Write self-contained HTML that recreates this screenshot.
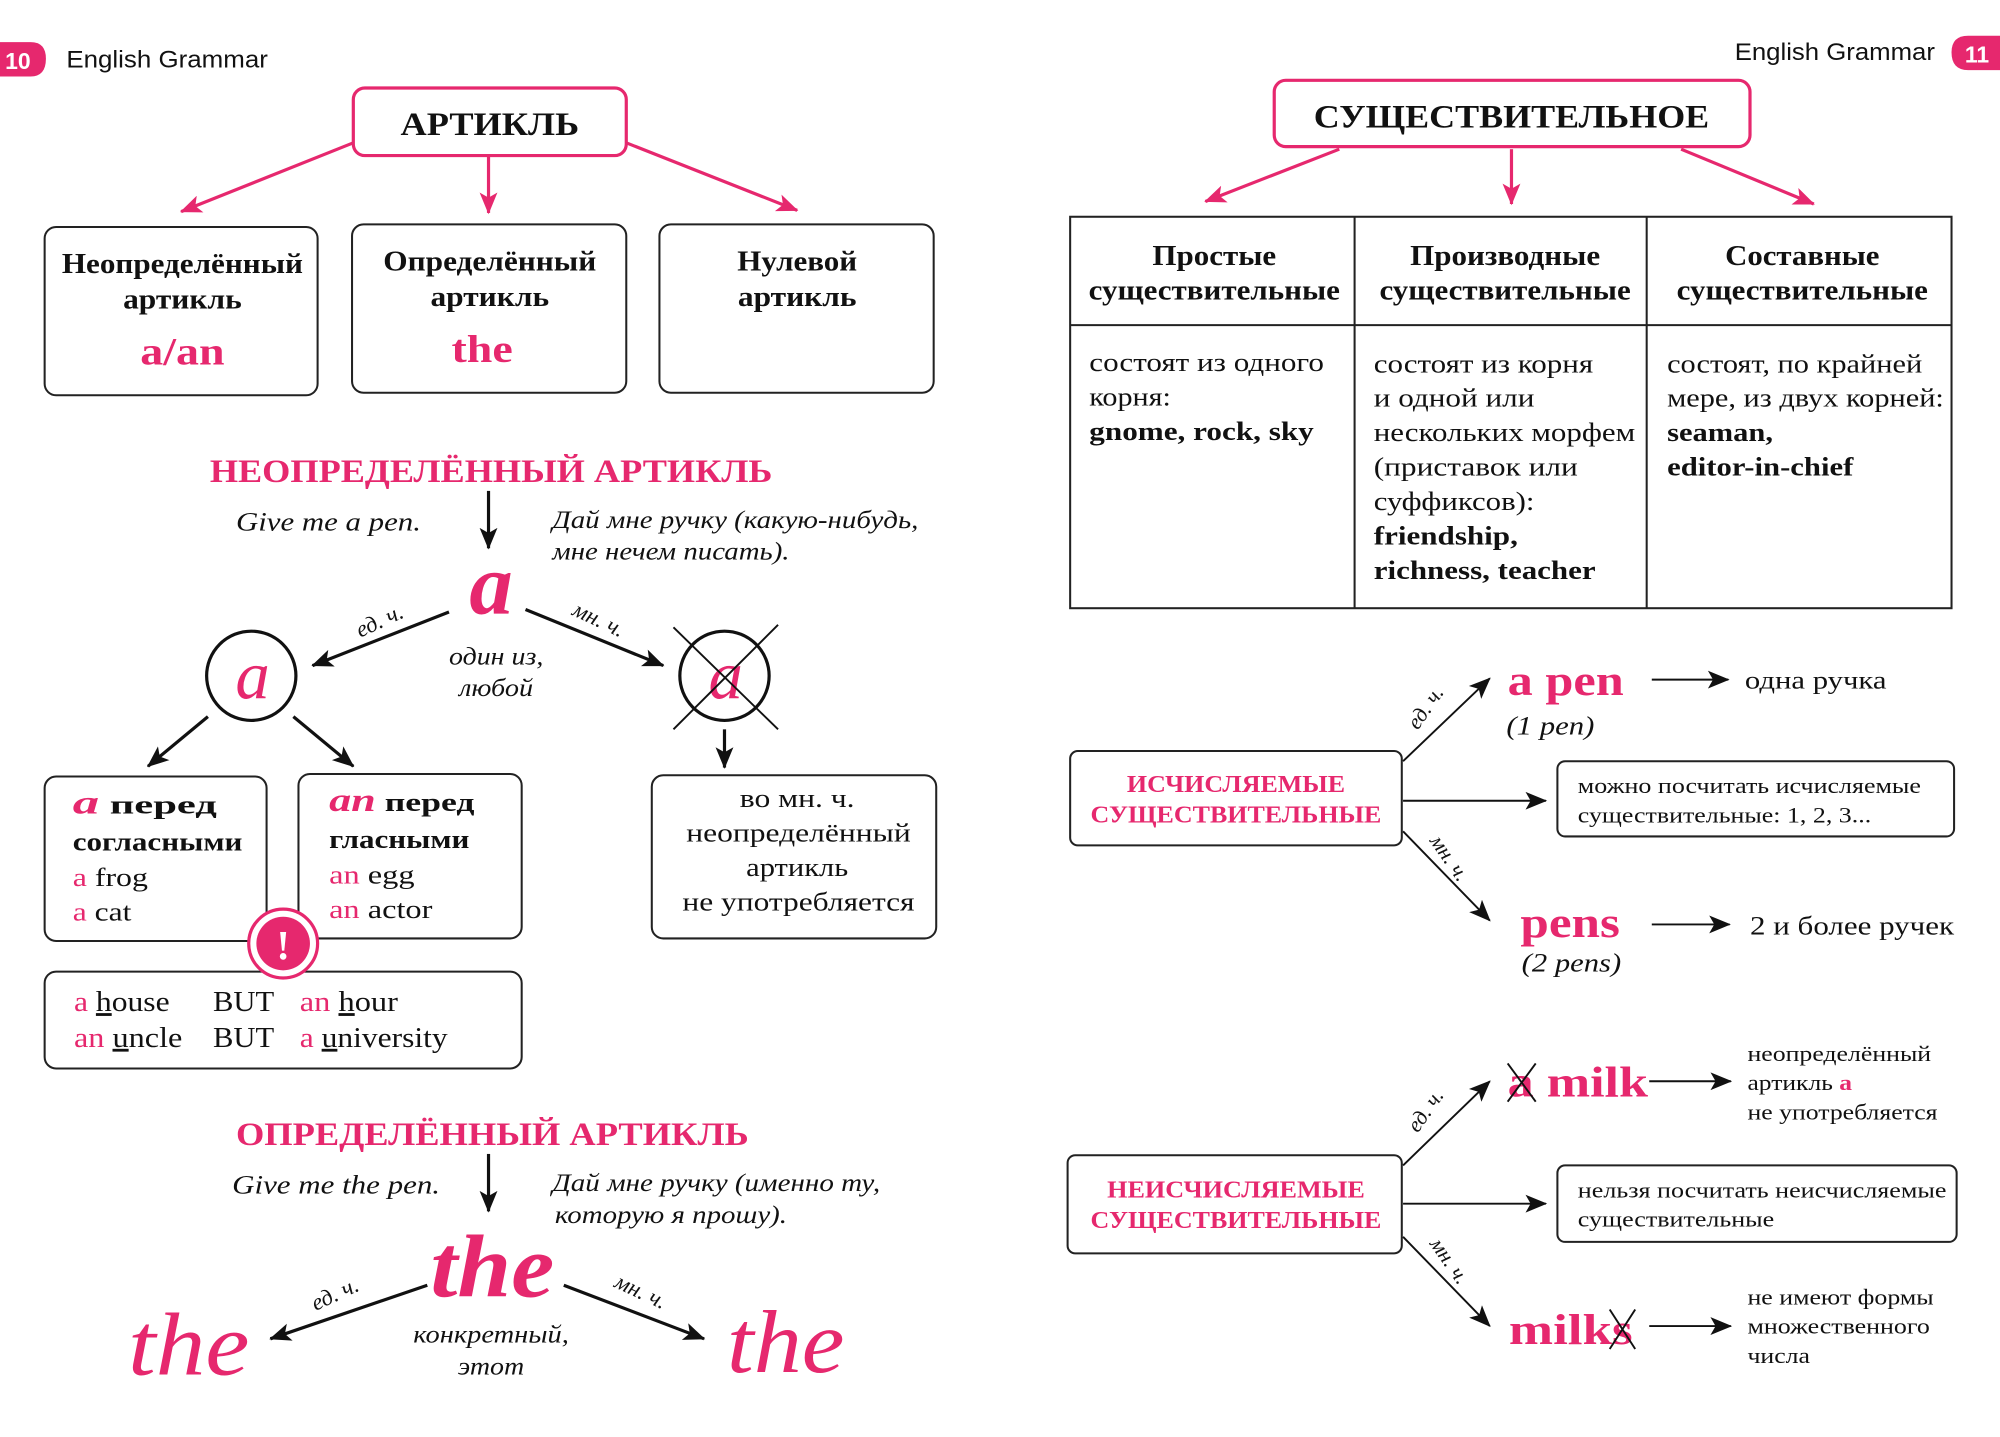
<!DOCTYPE html>
<html><head><meta charset="utf-8"><style>
html,body{margin:0;padding:0;background:#fff;}
svg{display:block;}
text{font-family:"Liberation Serif",serif;}
.s{font-family:"Liberation Sans",sans-serif;}
.p{fill:#e6286e;}
.b{font-weight:bold;}
.i{font-style:italic;}
</style></head><body>
<svg width="2000" height="1437" viewBox="0 0 1568 1127" preserveAspectRatio="none" xmlns="http://www.w3.org/2000/svg">
<defs>
<marker id="ab" markerWidth="20" markerHeight="16" refX="16" refY="8" orient="auto" markerUnits="userSpaceOnUse"><path d="M0,1 L17,8 L0,15 L4,8 Z" fill="#111"/></marker>
<marker id="apk" markerWidth="20" markerHeight="16" refX="16" refY="8" orient="auto" markerUnits="userSpaceOnUse"><path d="M0,1 L17,8 L0,15 L4,8 Z" fill="#e6286e"/></marker>
</defs>
<rect width="1568" height="1127" fill="#fff"/>

<!-- LEFT PAGE header -->
<path d="M0,33 H24 Q36,33 36,46 Q36,60 24,60 H0 Z" fill="#e6286e"/>
<text x="14" y="54" class="s b" font-size="18" fill="#fff" text-anchor="middle">10</text>
<text x="52" y="53" class="s" font-size="19" fill="#111" textLength="158" lengthAdjust="spacingAndGlyphs">English Grammar</text>

<rect x="277" y="69" width="214" height="53" rx="9" fill="#fff" stroke="#e6286e" stroke-width="2.5"/>
<text x="384" y="106" class="b" font-size="26" text-anchor="middle" fill="#111" textLength="140" lengthAdjust="spacingAndGlyphs">АРТИКЛЬ</text>
<g stroke="#e6286e" stroke-width="2.5" fill="none">
<line x1="277" y1="112" x2="142" y2="166" marker-end="url(#apk)"/>
<line x1="383" y1="122" x2="383" y2="167" marker-end="url(#apk)"/>
<line x1="491" y1="112" x2="625" y2="165" marker-end="url(#apk)"/>
</g>
<g fill="none" stroke="#222" stroke-width="1.6">
<rect x="35" y="178" width="214" height="132" rx="9"/>
<rect x="276" y="176" width="215" height="132" rx="9"/>
<rect x="517" y="176" width="215" height="132" rx="9"/>
</g>
<g class="b" font-size="22" text-anchor="middle" fill="#111">
<text x="143" y="214" textLength="189" lengthAdjust="spacingAndGlyphs">Неопределённый</text><text x="143" y="242" textLength="93" lengthAdjust="spacingAndGlyphs">артикль</text>
<text x="384" y="212" textLength="167" lengthAdjust="spacingAndGlyphs">Определённый</text><text x="384" y="240" textLength="93" lengthAdjust="spacingAndGlyphs">артикль</text>
<text x="625" y="212" textLength="94" lengthAdjust="spacingAndGlyphs">Нулевой</text><text x="625" y="240" textLength="93" lengthAdjust="spacingAndGlyphs">артикль</text>
</g>
<text x="143" y="286" class="b p" font-size="31" text-anchor="middle" textLength="66" lengthAdjust="spacingAndGlyphs">a/an</text>
<text x="378" y="284" class="b p" font-size="31" text-anchor="middle" textLength="48" lengthAdjust="spacingAndGlyphs">the</text>

<text x="385" y="378" class="b p" font-size="26" text-anchor="middle" textLength="441" lengthAdjust="spacingAndGlyphs">НЕОПРЕДЕЛЁННЫЙ АРТИКЛЬ</text>
<text x="185" y="416" class="i" font-size="21" fill="#111" textLength="145" lengthAdjust="spacingAndGlyphs">Give me a pen.</text>
<line x1="383" y1="385" x2="383" y2="430" stroke="#111" stroke-width="2.5" marker-end="url(#ab)"/>
<text x="433" y="414" class="i" font-size="20" fill="#111" textLength="287" lengthAdjust="spacingAndGlyphs">Дай мне ручку (какую-нибудь,</text>
<text x="433" y="439" class="i" font-size="20" fill="#111" textLength="186" lengthAdjust="spacingAndGlyphs">мне нечем писать).</text>
<text x="385" y="481" class="i b p" font-size="68" text-anchor="middle">a</text>
<text transform="translate(300,492) rotate(-25)" class="i" font-size="18" text-anchor="middle" fill="#111">ед. ч.</text>
<text transform="translate(467,491) rotate(25)" class="i" font-size="18" text-anchor="middle" fill="#111">мн. ч.</text>
<g stroke="#111" stroke-width="2.5">
<line x1="352" y1="480" x2="245" y2="522" marker-end="url(#ab)"/>
<line x1="412" y1="478" x2="520" y2="522" marker-end="url(#ab)"/>
<line x1="163" y1="562" x2="116" y2="601" marker-end="url(#ab)"/>
<line x1="230" y1="562" x2="277" y2="601" marker-end="url(#ab)"/>
<line x1="568" y1="572" x2="568" y2="602" marker-end="url(#ab)"/>
</g>
<text x="389" y="521" class="i" font-size="20" text-anchor="middle" fill="#111" textLength="74" lengthAdjust="spacingAndGlyphs">один из,</text>
<text x="389" y="546" class="i" font-size="20" text-anchor="middle" fill="#111" textLength="58" lengthAdjust="spacingAndGlyphs">любой</text>
<circle cx="197" cy="530" r="35" fill="none" stroke="#111" stroke-width="2.5"/>
<text x="198" y="548" class="i p" font-size="54" text-anchor="middle">a</text>
<circle cx="568" cy="530" r="35" fill="none" stroke="#111" stroke-width="2.5"/>
<text x="569" y="548" class="i p" font-size="54" text-anchor="middle">a</text>
<g stroke="#111" stroke-width="1.5"><line x1="528" y1="492" x2="610" y2="572"/><line x1="610" y1="490" x2="528" y2="572"/></g>

<g fill="none" stroke="#222" stroke-width="1.6">
<rect x="35" y="609" width="174" height="129" rx="9"/>
<rect x="234" y="607" width="175" height="129" rx="9"/>
<rect x="511" y="608" width="223" height="128" rx="9"/>
<rect x="35" y="762" width="374" height="76" rx="9"/>
</g>
<g font-size="21" fill="#111">
<text x="57" y="638" class="b" textLength="113" lengthAdjust="spacingAndGlyphs"><tspan class="i p" font-size="26">a</tspan> перед</text>
<text x="57" y="667" class="b" textLength="133" lengthAdjust="spacingAndGlyphs">согласными</text>
<text x="57" y="695" textLength="59" lengthAdjust="spacingAndGlyphs"><tspan class="p">a</tspan> frog</text>
<text x="57" y="722" textLength="46" lengthAdjust="spacingAndGlyphs"><tspan class="p">a</tspan> cat</text>
<text x="258" y="636" class="b" textLength="114" lengthAdjust="spacingAndGlyphs"><tspan class="i p" font-size="26">an</tspan> перед</text>
<text x="258" y="665" class="b" textLength="110" lengthAdjust="spacingAndGlyphs">гласными</text>
<text x="258" y="693" textLength="67" lengthAdjust="spacingAndGlyphs"><tspan class="p">an</tspan> egg</text>
<text x="258" y="720" textLength="81" lengthAdjust="spacingAndGlyphs"><tspan class="p">an</tspan> actor</text>
</g>
<g font-size="21" fill="#111" text-anchor="middle">
<text x="625" y="633" textLength="90" lengthAdjust="spacingAndGlyphs">во мн. ч.</text>
<text x="626" y="660" textLength="176" lengthAdjust="spacingAndGlyphs">неопределённый</text>
<text x="625" y="687" textLength="80" lengthAdjust="spacingAndGlyphs">артикль</text>
<text x="626" y="714" textLength="182" lengthAdjust="spacingAndGlyphs">не употребляется</text>
</g>
<circle cx="222" cy="740" r="27" fill="#fff" stroke="#e6286e" stroke-width="2.5"/>
<circle cx="222" cy="740" r="21" fill="#e6286e"/>
<text x="222" y="752" class="b" font-size="32" fill="#fff" text-anchor="middle">!</text>
<g font-size="22" fill="#111">
<text x="58" y="793" textLength="75" lengthAdjust="spacingAndGlyphs"><tspan class="p">a</tspan> <tspan text-decoration="underline">h</tspan>ouse</text>
<text x="58" y="821" textLength="85" lengthAdjust="spacingAndGlyphs"><tspan class="p">an</tspan> <tspan text-decoration="underline">u</tspan>ncle</text>
<text x="167" y="793" textLength="48" lengthAdjust="spacingAndGlyphs">BUT</text><text x="167" y="821" textLength="48" lengthAdjust="spacingAndGlyphs">BUT</text>
<text x="235" y="793" textLength="77" lengthAdjust="spacingAndGlyphs"><tspan class="p">an</tspan> <tspan text-decoration="underline">h</tspan>our</text>
<text x="235" y="821" textLength="116" lengthAdjust="spacingAndGlyphs"><tspan class="p">a</tspan> <tspan text-decoration="underline">u</tspan>niversity</text>
</g>

<text x="386" y="898" class="b p" font-size="26" text-anchor="middle" textLength="402" lengthAdjust="spacingAndGlyphs">ОПРЕДЕЛЁННЫЙ АРТИКЛЬ</text>
<text x="182" y="936" class="i" font-size="21" fill="#111" textLength="163" lengthAdjust="spacingAndGlyphs">Give me the pen.</text>
<line x1="383" y1="905" x2="383" y2="950" stroke="#111" stroke-width="2.5" marker-end="url(#ab)"/>
<text x="433" y="934" class="i" font-size="20" fill="#111" textLength="257" lengthAdjust="spacingAndGlyphs">Дай мне ручку (именно ту,</text>
<text x="435" y="959" class="i" font-size="20" fill="#111" textLength="182" lengthAdjust="spacingAndGlyphs">которую я прошу).</text>
<text x="386" y="1017" class="i b p" font-size="70" text-anchor="middle" textLength="97" lengthAdjust="spacingAndGlyphs">the</text>
<text x="148" y="1078" class="i p" font-size="70" text-anchor="middle" textLength="95" lengthAdjust="spacingAndGlyphs">the</text>
<text x="616" y="1076" class="i p" font-size="70" text-anchor="middle" textLength="92" lengthAdjust="spacingAndGlyphs">the</text>
<text transform="translate(265,1020) rotate(-25)" class="i" font-size="18" text-anchor="middle" fill="#111">ед. ч.</text>
<text transform="translate(500,1018) rotate(25)" class="i" font-size="18" text-anchor="middle" fill="#111">мн. ч.</text>
<g stroke="#111" stroke-width="2.5">
<line x1="335" y1="1008" x2="212" y2="1050" marker-end="url(#ab)"/>
<line x1="442" y1="1008" x2="552" y2="1050" marker-end="url(#ab)"/>
</g>
<text x="385" y="1053" class="i" font-size="20" text-anchor="middle" fill="#111" textLength="122" lengthAdjust="spacingAndGlyphs">конкретный,</text>
<text x="385" y="1078" class="i" font-size="20" text-anchor="middle" fill="#111" textLength="52" lengthAdjust="spacingAndGlyphs">этот</text>

<!-- RIGHT PAGE -->
<text x="1517" y="47" class="s" font-size="19" fill="#111" text-anchor="end" textLength="157" lengthAdjust="spacingAndGlyphs">English Grammar</text>
<path d="M1568,28 H1543 Q1530,28 1530,41 Q1530,55 1543,55 H1568 Z" fill="#e6286e"/>
<text x="1550" y="49" class="s b" font-size="18" fill="#fff" text-anchor="middle">11</text>

<rect x="999" y="63" width="373" height="52" rx="9" fill="#fff" stroke="#e6286e" stroke-width="2.5"/>
<text x="1185" y="100" class="b" font-size="26" text-anchor="middle" fill="#111" textLength="310" lengthAdjust="spacingAndGlyphs">СУЩЕСТВИТЕЛЬНОЕ</text>
<g stroke="#e6286e" stroke-width="2.5">
<line x1="1050" y1="117" x2="945" y2="158" marker-end="url(#apk)"/>
<line x1="1185" y1="117" x2="1185" y2="160" marker-end="url(#apk)"/>
<line x1="1318" y1="117" x2="1422" y2="160" marker-end="url(#apk)"/>
</g>
<g fill="none" stroke="#222" stroke-width="1.6">
<rect x="839" y="170" width="691" height="307"/>
<line x1="1062" y1="170" x2="1062" y2="477"/>
<line x1="1291" y1="170" x2="1291" y2="477"/>
<line x1="839" y1="255" x2="1530" y2="255"/>
</g>
<g class="b" font-size="22" text-anchor="middle" fill="#111">
<text x="952" y="208" textLength="97" lengthAdjust="spacingAndGlyphs">Простые</text><text x="952" y="235" textLength="197" lengthAdjust="spacingAndGlyphs">существительные</text>
<text x="1180" y="208" textLength="149" lengthAdjust="spacingAndGlyphs">Производные</text><text x="1180" y="235" textLength="197" lengthAdjust="spacingAndGlyphs">существительные</text>
<text x="1413" y="208" textLength="121" lengthAdjust="spacingAndGlyphs">Составные</text><text x="1413" y="235" textLength="197" lengthAdjust="spacingAndGlyphs">существительные</text>
</g>
<g font-size="21" fill="#111">
<text x="854" y="291" textLength="184" lengthAdjust="spacingAndGlyphs">состоят из одного</text>
<text x="854" y="318" textLength="64" lengthAdjust="spacingAndGlyphs">корня:</text>
<text x="854" y="345" class="b" textLength="176" lengthAdjust="spacingAndGlyphs">gnome, rock, sky</text>
<text x="1077" y="292" textLength="172" lengthAdjust="spacingAndGlyphs">состоят из корня</text>
<text x="1077" y="319" textLength="126" lengthAdjust="spacingAndGlyphs">и одной или</text>
<text x="1077" y="346" textLength="205" lengthAdjust="spacingAndGlyphs">нескольких морфем</text>
<text x="1077" y="373" textLength="160" lengthAdjust="spacingAndGlyphs">(приставок или</text>
<text x="1077" y="400" textLength="126" lengthAdjust="spacingAndGlyphs">суффиксов):</text>
<text x="1077" y="427" class="b" textLength="113" lengthAdjust="spacingAndGlyphs">friendship,</text>
<text x="1077" y="454" class="b" textLength="174" lengthAdjust="spacingAndGlyphs">richness, teacher</text>
<text x="1307" y="292" textLength="200" lengthAdjust="spacingAndGlyphs">состоят, по крайней</text>
<text x="1307" y="319" textLength="217" lengthAdjust="spacingAndGlyphs">мере, из двух корней:</text>
<text x="1307" y="346" class="b" textLength="83" lengthAdjust="spacingAndGlyphs">seaman,</text>
<text x="1307" y="373" class="b" textLength="146" lengthAdjust="spacingAndGlyphs">editor-in-chief</text>
</g>

<g fill="none" stroke="#222" stroke-width="1.6">
<rect x="839" y="589" width="260" height="74" rx="6"/>
<rect x="1221" y="597" width="311" height="59" rx="6"/>
<rect x="837" y="906" width="262" height="77" rx="6"/>
<rect x="1221" y="914" width="313" height="60" rx="6"/>
</g>
<text x="969" y="621" class="b p" font-size="19" text-anchor="middle" textLength="171" lengthAdjust="spacingAndGlyphs">ИСЧИСЛЯЕМЫЕ</text>
<text x="969" y="645" class="b p" font-size="19" text-anchor="middle" textLength="228" lengthAdjust="spacingAndGlyphs">СУЩЕСТВИТЕЛЬНЫЕ</text>
<g stroke="#111" stroke-width="1.5">
<line x1="1100" y1="597" x2="1168" y2="532" marker-end="url(#ab)"/>
<line x1="1100" y1="628" x2="1212" y2="628" marker-end="url(#ab)"/>
<line x1="1100" y1="652" x2="1168" y2="722" marker-end="url(#ab)"/>
<line x1="1295" y1="533" x2="1355" y2="533" marker-end="url(#ab)"/>
<line x1="1295" y1="725" x2="1356" y2="725" marker-end="url(#ab)"/>
<line x1="1100" y1="914" x2="1168" y2="848" marker-end="url(#ab)"/>
<line x1="1100" y1="944" x2="1212" y2="944" marker-end="url(#ab)"/>
<line x1="1100" y1="970" x2="1168" y2="1040" marker-end="url(#ab)"/>
<line x1="1293" y1="848" x2="1357" y2="848" marker-end="url(#ab)"/>
<line x1="1293" y1="1040" x2="1357" y2="1040" marker-end="url(#ab)"/>
</g>
<text transform="translate(1122,558) rotate(-55)" class="i" font-size="17" text-anchor="middle" fill="#111">ед. ч.</text>
<text transform="translate(1132,676) rotate(55)" class="i" font-size="17" text-anchor="middle" fill="#111">мн. ч.</text>
<text transform="translate(1122,874) rotate(-55)" class="i" font-size="17" text-anchor="middle" fill="#111">ед. ч.</text>
<text transform="translate(1132,992) rotate(55)" class="i" font-size="17" text-anchor="middle" fill="#111">мн. ч.</text>
<text x="1182" y="545" class="b p" font-size="34" textLength="91" lengthAdjust="spacingAndGlyphs">a pen</text>
<text x="1181" y="576" class="i" font-size="21" fill="#111" textLength="69" lengthAdjust="spacingAndGlyphs">(1 pen)</text>
<text x="1368" y="540" font-size="20" fill="#111" textLength="111" lengthAdjust="spacingAndGlyphs">одна ручка</text>
<text x="1237" y="622" font-size="17" fill="#111" textLength="269" lengthAdjust="spacingAndGlyphs">можно посчитать исчисляемые</text>
<text x="1237" y="645" font-size="17" fill="#111" textLength="230" lengthAdjust="spacingAndGlyphs">существительные: 1, 2, 3...</text>
<text x="1192" y="735" class="b p" font-size="34" textLength="78" lengthAdjust="spacingAndGlyphs">pens</text>
<text x="1193" y="762" class="i" font-size="21" fill="#111" textLength="78" lengthAdjust="spacingAndGlyphs">(2 pens)</text>
<text x="1372" y="733" font-size="21" fill="#111" textLength="160" lengthAdjust="spacingAndGlyphs">2 и более ручек</text>

<text x="969" y="939" class="b p" font-size="19" text-anchor="middle" textLength="202" lengthAdjust="spacingAndGlyphs">НЕИСЧИСЛЯЕМЫЕ</text>
<text x="969" y="963" class="b p" font-size="19" text-anchor="middle" textLength="228" lengthAdjust="spacingAndGlyphs">СУЩЕСТВИТЕЛЬНЫЕ</text>
<text x="1182" y="860" class="b p" font-size="34" textLength="110" lengthAdjust="spacingAndGlyphs">a milk</text>
<g stroke="#111" stroke-width="1.5"><line x1="1182" y1="834" x2="1204" y2="864"/><line x1="1204" y1="834" x2="1182" y2="864"/></g>
<text x="1370" y="832" font-size="17" fill="#111" textLength="144" lengthAdjust="spacingAndGlyphs">неопределённый</text>
<text x="1370" y="855" font-size="17" fill="#111" textLength="82" lengthAdjust="spacingAndGlyphs">артикль <tspan class="b p">a</tspan></text>
<text x="1370" y="878" font-size="17" fill="#111" textLength="149" lengthAdjust="spacingAndGlyphs">не употребляется</text>
<text x="1237" y="939" font-size="17" fill="#111" textLength="289" lengthAdjust="spacingAndGlyphs">нельзя посчитать неисчисляемые</text>
<text x="1237" y="962" font-size="17" fill="#111" textLength="154" lengthAdjust="spacingAndGlyphs">существительные</text>
<text x="1183" y="1054" class="b p" font-size="34" textLength="97" lengthAdjust="spacingAndGlyphs">milks</text>
<g stroke="#111" stroke-width="1.5"><line x1="1262" y1="1027" x2="1282" y2="1058"/><line x1="1282" y1="1027" x2="1262" y2="1058"/></g>
<text x="1370" y="1023" font-size="17" fill="#111" textLength="146" lengthAdjust="spacingAndGlyphs">не имеют формы</text>
<text x="1370" y="1046" font-size="17" fill="#111" textLength="143" lengthAdjust="spacingAndGlyphs">множественного</text>
<text x="1370" y="1069" font-size="17" fill="#111" textLength="49" lengthAdjust="spacingAndGlyphs">числа</text>
</svg>
</body></html>
